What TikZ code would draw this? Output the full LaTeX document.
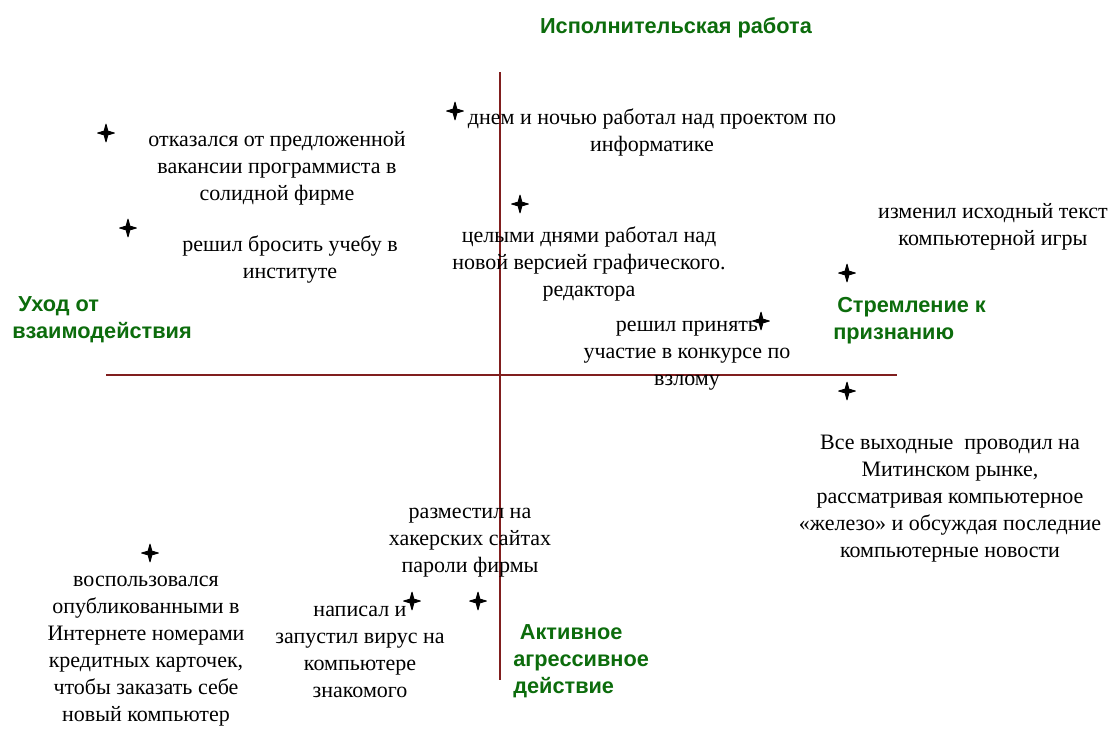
\documentclass[tikz,border=0pt]{standalone}
\usepackage{fontspec}
\setmainfont{Liberation Serif}
\newfontfamily\grnfont{Liberation Sans}
\definecolor{axiscol}{RGB}{128,30,30}
\definecolor{grncol}{RGB}{12,108,12}
\tikzset{
  axisline/.style={draw=axiscol, line width=1.1pt},
  sparkle/.pic={\filldraw[black, line width=0.7pt, line join=round] (0,-8.8) -- (1.9,-1.9) -- (8.3,0) -- (1.9,1.9) -- (0,8.8) -- (-1.9,1.9) -- (-8.3,0) -- (-1.9,-1.9) -- cycle;},
  note/.style={align=center, inner sep=0pt, font=\fontsize{16.5pt}{20.25pt}\selectfont},
  dim/.style={inner sep=0pt, text=grncol, font=\grnfont\bfseries\fontsize{16.3pt}{20.25pt}\selectfont},
}
\begin{document}
\begin{tikzpicture}[x=0.75pt,y=-0.75pt]
\useasboundingbox (0,0) rectangle (1109,729);
% axes
\coordinate (vtop) at (500,72);
\coordinate (vbot) at (500,680);
\coordinate (hl) at (106,375);
\coordinate (hr) at (897,375);
\draw[axisline] (vtop) -- (vbot);
\draw[axisline] (hl) -- (hr);
% dimension labels
\node[dim] (top) at (676,28) {Исполнительская работа};
\node[dim, align=left, anchor=west] (left) at (12,319.5) {\hspace{4.5pt}Уход от\\взаимодействия};
\node[dim, align=left, anchor=west] (right) at (833,320.5) {\hspace{3pt}Стремление к\\признанию};
\node[dim, align=left, anchor=west] (bottom) at (513,661.5) {\hspace{5pt}Активное\\агрессивное\\действие};
% stars
\coordinate (s1) at (106,133);
\coordinate (s2) at (128,228);
\coordinate (s3) at (455,111);
\coordinate (s4) at (520,204);
\coordinate (s5) at (761,321);
\coordinate (s6) at (847,273);
\coordinate (s7) at (847,391);
\coordinate (s8) at (150,553);
\coordinate (s9) at (412,601);
\coordinate (s10) at (478,601);
\foreach \s in {s1,s2,s3,s4,s5,s6,s7,s8,s9,s10} \pic at (\s) {sparkle};
% notes
\node[note] (t1) at (277,168) {отказался от предложенной\\вакансии программиста в\\солидной фирме};
\node[note] (t2) at (290,259.5) {решил бросить учебу в\\институте};
\node[note] (t3) at (652,132.5) {днем и ночью работал над проектом по\\информатике};
\node[note] (t4) at (589,263.5) {целыми днями работал над\\новой версией графического.\\редактора};
\node[note] (t5) at (687,356) {решил принять\\участие в конкурсе по\\взлому};
\node[note] (t6) at (993,227) {изменил исходный текст\\компьютерной игры};
\node[note] (t7) at (950,499) {Все выходные\ \ проводил на\\Митинском рынке,\\рассматривая компьютерное\\«железо» и обсуждая последние\\компьютерные новости};
\node[note] (t8) at (146,651.5) {воспользовался\\опубликованными в\\Интернете номерами\\кредитных карточек,\\чтобы заказать себе\\новый компьютер};
\node[note] (t9) at (360,651.5) {написал и\\запустил вирус на\\компьютере\\знакомого};
\node[note] (t10) at (470,543) {разместил на\\хакерских сайтах\\пароли фирмы};
\end{tikzpicture}
\end{document}
